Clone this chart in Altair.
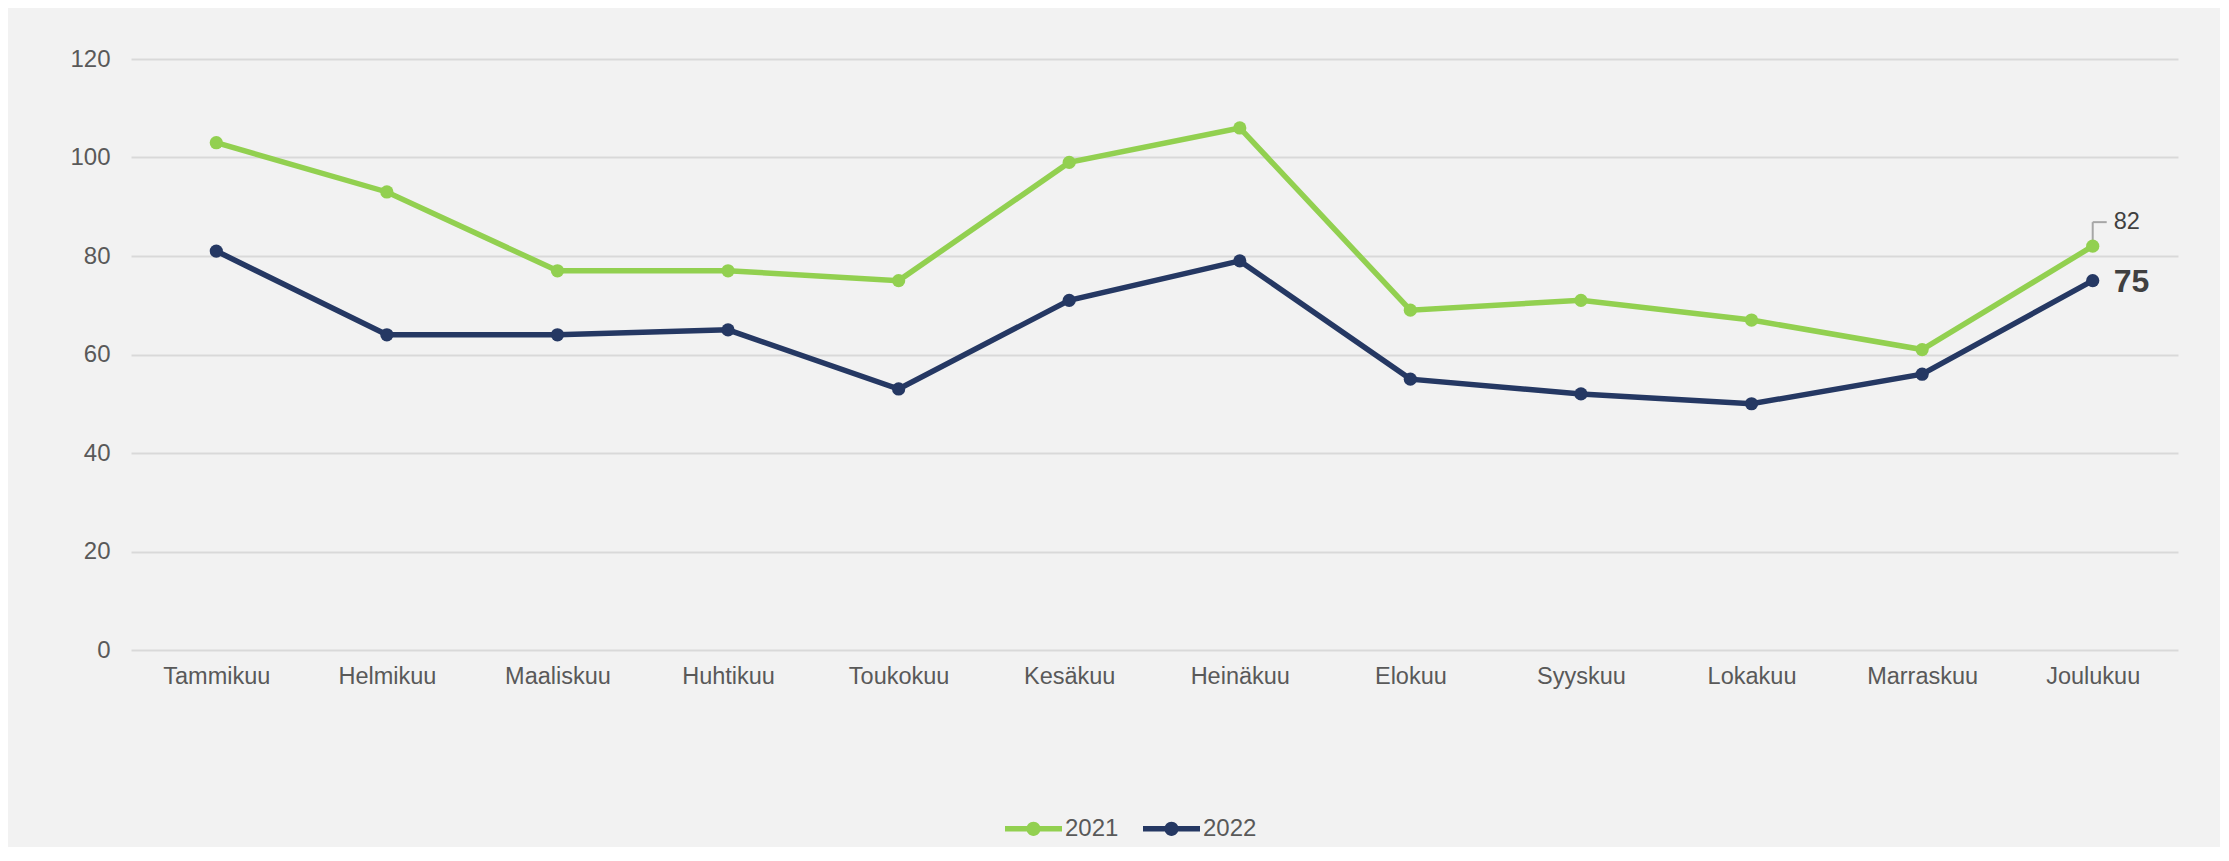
import altair as alt
import pandas as pd

months = ["Tammikuu", "Helmikuu", "Maaliskuu", "Huhtikuu", "Toukokuu", "Kesäkuu",
          "Heinäkuu", "Elokuu", "Syyskuu", "Lokakuu", "Marraskuu", "Joulukuu"]
v2021 = [103, 93, 77, 77, 75, 99, 106, 69, 71, 67, 61, 82]
v2022 = [81, 64, 64, 65, 53, 71, 79, 55, 52, 50, 56, 75]
series = ["2021", "2022"]
colors = ["#92D050", "#253863"]
y_ticks = [0, 20, 40, 60, 80, 100, 120]

rows = []
for s, vals in zip(series, [v2021, v2022]):
    for m, v in zip(months, vals):
        rows.append({"month": m, "series": s, "value": v})
df = pd.DataFrame(rows)

FONT = "Liberation Sans"

x = alt.X("month:N", sort=months, scale=alt.Scale(type="point", padding=0.5),
          axis=alt.Axis(title=None, labelAngle=0, ticks=False, domain=False, grid=False,
                        labelFontSize=23.5, labelColor="#595959", labelPadding=14, labelFont=FONT))
y = alt.Y("value:Q", scale=alt.Scale(domain=[0, 120], nice=False),
          axis=alt.Axis(title=None, values=y_ticks, ticks=False, domain=False, grid=True,
                        gridColor="#d9d9d9", gridWidth=2, labelFontSize=24,
                        labelColor="#595959", labelPadding=21, labelFont=FONT))

base = alt.Chart(df)

# line colours: stroke scale (domain taken from data, sorted) so it does not merge with the legend
lines = base.transform_calculate(line_series="datum.series").mark_line(
    strokeWidth=5.5).encode(
    x=x, y=y,
    stroke=alt.Stroke("line_series:N", scale=alt.Scale(range=colors), legend=None),
    detail="series:N",
)

sym = ("M-1,-0.095L1,-0.095L1,0.095L-1,0.095Z "
       "M0.25,0A0.25,0.25,0,1,1,-0.25,0A0.25,0.25,0,1,1,0.25,0Z")

points = base.mark_circle(size=175, opacity=1).encode(
    x=x, y=y,
    color=alt.Color("series:N", scale=alt.Scale(domain=series, range=colors),
                    legend=alt.Legend(title=None, orient="none", direction="horizontal",
                                      legendX=874, legendY=741, symbolType=sym,
                                      symbolSize=3249, symbolStrokeWidth=0,
                                      labelFontSize=24, labelColor="#595959", labelFont=FONT,
                                      labelOffset=3, columnPadding=24)),
)

last21 = base.transform_filter(
    (alt.datum.month == "Joulukuu") & (alt.datum.series == "2021"))
last22 = base.transform_filter(
    (alt.datum.month == "Joulukuu") & (alt.datum.series == "2022"))

leader_v = last21.mark_rule(color="#a6a6a6", strokeWidth=2, yOffset=-6, y2Offset=-24).encode(
    x=x, y=y, y2="value:Q")
leader_h = last21.mark_rule(color="#a6a6a6", strokeWidth=2, yOffset=-24, y2Offset=-24,
                            x2Offset=14).encode(x=x, x2="month:N", y=y, y2="value:Q")

label82 = last21.mark_text(align="left", baseline="middle", dx=21, dy=-24, fontSize=23.5,
                           color="#404040", font=FONT).encode(x=x, y=y, text="value:Q")
label75 = last22.mark_text(align="left", baseline="middle", dx=21, dy=1, fontSize=32,
                           fontWeight="bold", color="#404040", font=FONT).encode(
    x=x, y=y, text="value:Q")

chart = alt.layer(lines, leader_v, leader_h, points, label82, label75).properties(
    width=2047, height=591, background="#f2f2f2",
    padding={"left": 123, "top": 51, "right": 42, "bottom": 197},
    autosize=alt.AutoSizeParams(type="none"),
).configure(font=FONT).configure_view(stroke=None)

chart.save("out.html", embed_options={"renderer": "svg", "actions": False})
